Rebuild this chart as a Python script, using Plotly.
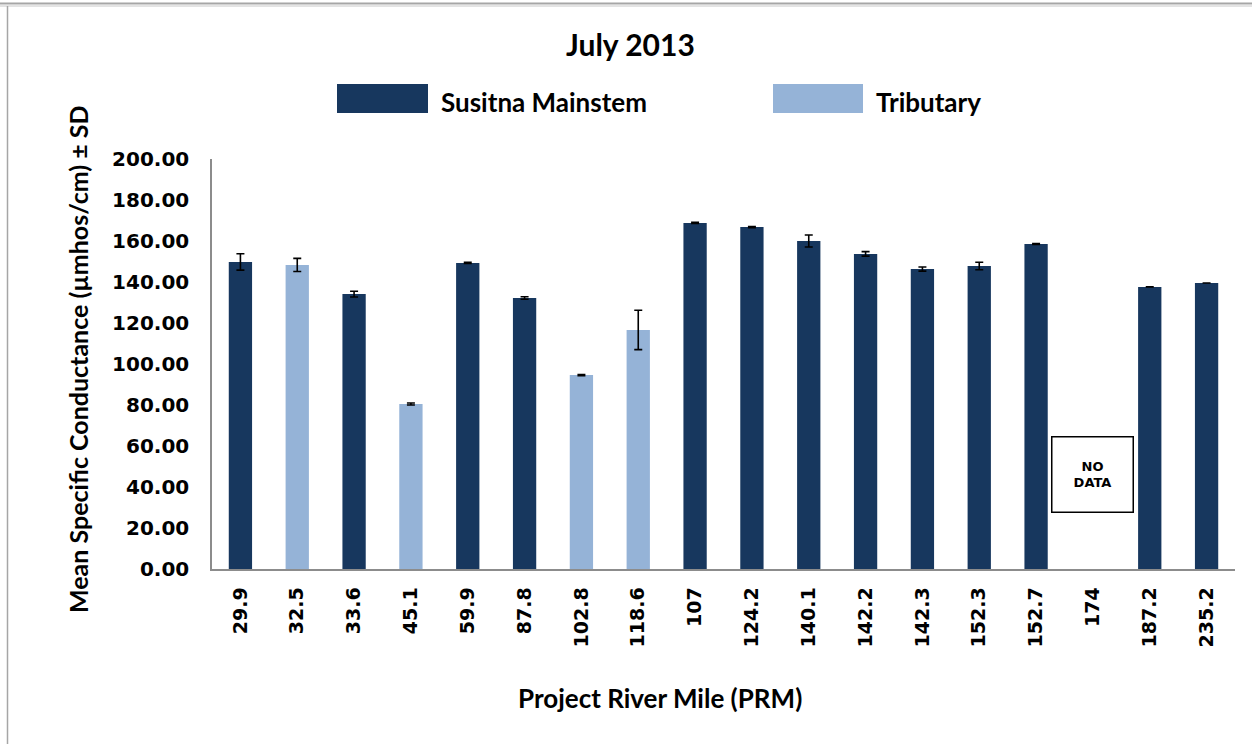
import plotly.graph_objects as go

# ---- data ----
categories = ["29.9", "32.5", "33.6", "45.1", "59.9", "87.8", "102.8", "118.6", "107",
              "124.2", "140.1", "142.2", "142.3", "152.3", "152.7", "174", "187.2", "235.2"]
mainstem_vals = [149.8, None, 134.1, None, 149.3, 132.2, None, None, 168.8,
                 166.8, 160.0, 153.7, 146.3, 147.8, 158.5, None, 137.6, 139.5]
mainstem_sd = [4.0, None, 1.4, None, 0.3, 0.6, None, None, 0.3,
               0.3, 2.9, 1.1, 1.0, 1.8, 0.2, None, 0.0, 0.0]
tributary_vals = [None, 148.3, None, 80.5, None, None, 94.6, 116.6, None,
                  None, None, None, None, None, None, None, None, None]
tributary_sd = [None, 3.2, None, 0.5, None, None, 0.3, 9.6, None,
                None, None, None, None, None, None, None, None, None]
no_data_cat = "174"
no_data_y = 46
y_ticks = [0, 20, 40, 60, 80, 100, 120, 140, 160, 180, 200]

DARK = "#17375E"
LIGHT = "#95B3D7"

W, H = 1252, 744
L, R, T, B = 212, 1235, 159, 569


def px(xp):
    return (xp - L) / (R - L)


def py(yp):
    return (B - yp) / (B - T)


fig = go.Figure()
err_style = dict(type="data", visible=True, color="black", thickness=1.6, width=4)
fig.add_trace(go.Bar(x=categories, y=mainstem_vals, name="Susitna Mainstem",
                     marker=dict(color=DARK, line=dict(width=0)),
                     error_y=dict(array=mainstem_sd, **err_style)))
fig.add_trace(go.Bar(x=categories, y=tributary_vals, name="Tributary",
                     marker=dict(color=LIGHT, line=dict(width=0)),
                     error_y=dict(array=tributary_sd, **err_style)))

CAL = "Lato"
ARI = "DejaVu Sans"

shapes = [
    # legend swatches
    dict(type="rect", xref="paper", yref="paper", x0=px(337), x1=px(428), y0=py(113), y1=py(84),
         fillcolor=DARK, line=dict(width=0)),
    dict(type="rect", xref="paper", yref="paper", x0=px(773), x1=px(863), y0=py(113), y1=py(84),
         fillcolor=LIGHT, line=dict(width=0)),
    # outer frame lines
    dict(type="line", xref="paper", yref="paper", x0=px(0), x1=px(W), y0=py(3.5), y1=py(3.5),
         line=dict(color="#a6a6a6", width=2)),
    dict(type="line", xref="paper", yref="paper", x0=px(0), x1=px(W), y0=py(6), y1=py(6),
         line=dict(color="#c8c8c8", width=1)),
    dict(type="line", xref="paper", yref="paper", x0=px(7.5), x1=px(7.5), y0=py(6), y1=py(H),
         line=dict(color="#a6a6a6", width=1.5)),
]


def ann(text, xp, yp, size, family=CAL, xanchor="center", **kw):
    return dict(text=text, xref="paper", yref="paper", x=px(xp), y=py(yp),
                xanchor=xanchor, yanchor="middle", showarrow=False,
                font=dict(family=family, size=size, color="black", weight="bold"), **kw)


annotations = [
    ann("July 2013", 630, 44, 30),
    ann("Susitna Mainstem", 439, 102, 26, xanchor="left"),
    ann("Tributary", 874, 102, 26, xanchor="left"),
    ann("Project River Mile (PRM)", 660, 698, 26),
    ann("Mean Specific Conductance (µmhos/cm) ± SD", 78, 360, 25, textangle=-90),
    dict(text="NO<br>DATA", x=categories.index(no_data_cat), y=no_data_y, xref="x", yref="y",
         xanchor="center", yanchor="middle",
         showarrow=False, width=78, height=72, bordercolor="black", borderwidth=1.5,
         borderpad=1, bgcolor="white",
         font=dict(family=ARI, size=13, color="black", weight="bold")),
]

fig.update_layout(
    width=W, height=H,
    margin=dict(l=L, r=W - R, t=T, b=H - B, pad=0),
    paper_bgcolor="white", plot_bgcolor="white",
    barmode="overlay", bargap=0.59,
    showlegend=False,
    shapes=shapes, annotations=annotations,
    xaxis=dict(type="category", categoryorder="array", categoryarray=categories,
               showline=True, linecolor="#8c8c8c", linewidth=1.5, showgrid=False,
               ticks="", tickangle=-90, ticklabelstandoff=9,
               tickfont=dict(family=ARI, size=19, color="black", weight="bold"),
               range=[-0.5, 17.5]),
    yaxis=dict(range=[0, 200], tickvals=y_ticks, tickformat=".2f",
               showline=True, linecolor="#8c8c8c", linewidth=1.5, showgrid=False,
               ticks="", ticklabelstandoff=17, zeroline=False,
               tickfont=dict(family=ARI, size=20, color="black", weight="bold")),
)

fig.write_html("out.html",
               config={"displayModeBar": False},
               post_script="document.body.style.margin='0';document.body.style.padding='0';"
                           "document.body.style.overflow='hidden';")
